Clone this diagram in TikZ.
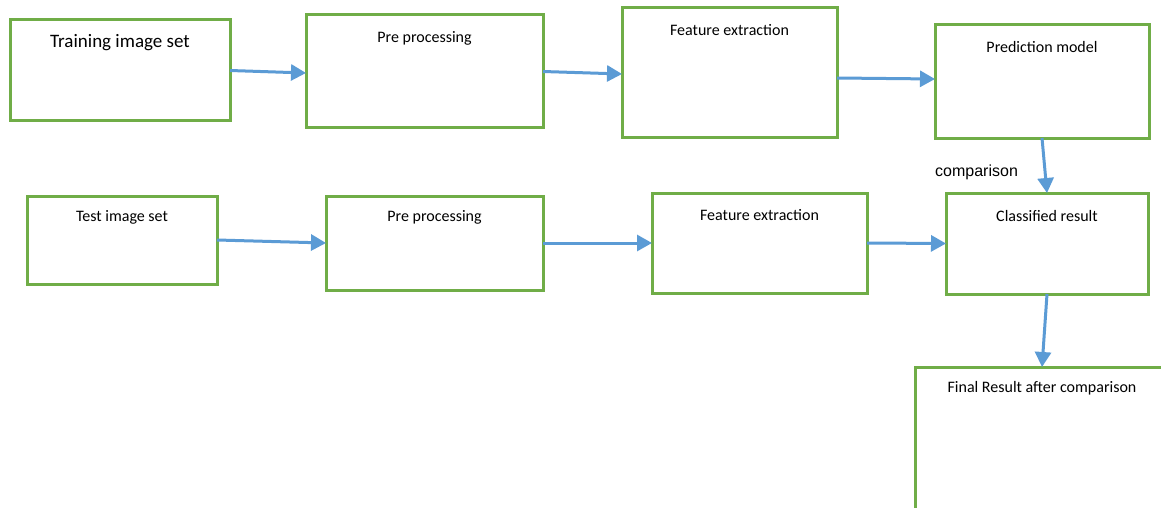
\documentclass[tikz,border=0pt]{standalone}
\usepackage{fontspec}
\setmainfont{Carlito}
\newfontfamily\arialfont{Liberation Sans}
\usetikzlibrary{arrows.meta,calc}
\definecolor{boxgreen}{HTML}{70AD47}
\definecolor{arrowblue}{HTML}{5B9BD5}
\tikzset{
  box/.style={draw=boxgreen, line width=3pt, rectangle, fill=white, inner sep=0pt, outer sep=0pt},
  txt/.style={font=\fontsize{16}{18}\selectfont, inner sep=0pt, anchor=center},
  conn/.style={draw=arrowblue, line width=3pt, -{Triangle[length=15pt,width=16pt]}, shorten >=0pt}
}
\begin{document}
\begin{tikzpicture}[x=1pt,y=-1pt]
\useasboundingbox (0,0) rectangle (1161,508);
\fill[white] (0,0) rectangle (1161,508);
\begin{scope}
\clip (0,0) rectangle (1161,508);
% row 1
\node[box, minimum width=220pt, minimum height=101pt] (b1) at (120,70.5) {};
\node[box, minimum width=237pt, minimum height=113pt] (b2) at (424.5,71.5) {};
\node[box, minimum width=215pt, minimum height=129pt] (b3) at (729.5,72.5) {};
\node[box, minimum width=214pt, minimum height=113pt] (b4) at (1042,81.5) {};
% row 2
\node[box, minimum width=190pt, minimum height=88pt] (b5) at (122,240) {};
\node[box, minimum width=217pt, minimum height=94pt] (b6) at (434.5,243) {};
\node[box, minimum width=215pt, minimum height=100pt] (b7) at (759.5,243) {};
\node[box, minimum width=202pt, minimum height=101pt] (b8) at (1047,243.5) {};
% final
\node[box, minimum width=254pt, minimum height=163pt] (b9) at (1042,448.5) {};
\end{scope}
% texts
\node[txt, font=\fontsize{19}{21}\selectfont] (t1) at ($(b1.north)+(0,23)$) {Training image set};
\node[txt] (t2) at ($(b2.north)+(0,23)$) {Pre processing};
\node[txt] (t3) at ($(b3.north)+(0,22)$) {Feature extraction};
\node[txt] (t4) at ($(b4.north)+(0,22)$) {Prediction model};
\node[txt] (t5) at ($(b5.north)+(0,21)$) {Test image set};
\node[txt] (t6) at ($(b6.north)+(0,21)$) {Pre processing};
\node[txt] (t7) at ($(b7.north)+(0,22)$) {Feature extraction};
\node[txt] (t8) at ($(b8.north)+(0,23)$) {Classified result};
\node[txt] (t9) at ($(b9.north)+(0,21)$) {Final Result after comparison};
\node[inner sep=0pt, anchor=west, font=\arialfont\fontsize{16}{18}\selectfont] (cmp) at (935,172) {comparison};
% connectors
\draw[conn] (b1.east) -- ([yshift=-1.5pt]b2.west);
\draw[conn] (b2.east) -- ([yshift=-1.5pt]b3.west);
\draw[conn] ([yshift=-5.5pt]b3.east) -- ([yshift=2.5pt]b4.west);
\draw[conn] (b4.south) -- (b8.north);
\draw[conn] (b5.east) -- (b6.west);
\draw[conn] (b6.east) -- (b7.west);
\draw[conn] (b7.east) -- (b8.west);
\draw[conn] (b8.south) -- (b9.north);
\end{tikzpicture}
\end{document}
